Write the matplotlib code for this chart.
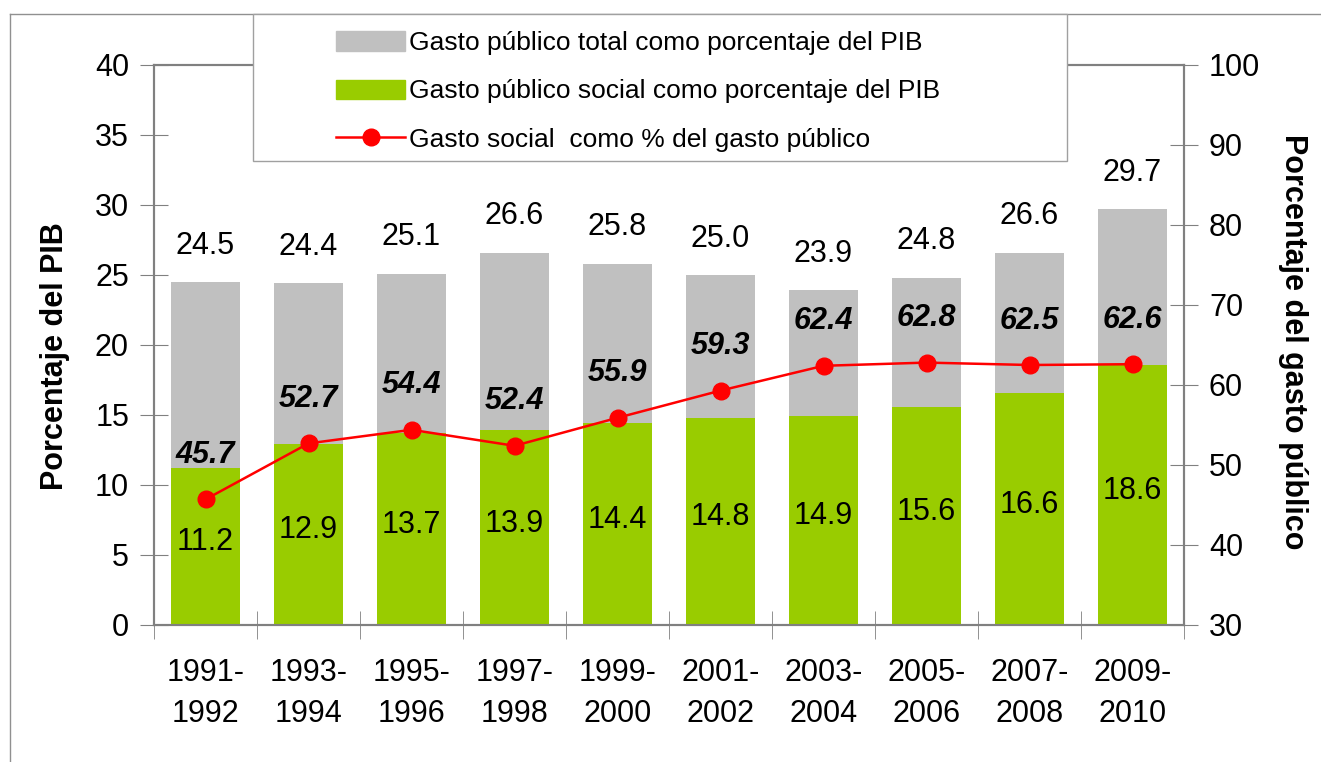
import matplotlib
matplotlib.use("Agg")
import matplotlib.pyplot as plt
import numpy as np
from matplotlib.lines import Line2D
from matplotlib.patches import Patch, Rectangle

plt.rcParams["font.family"] = ["Liberation Sans", "DejaVu Sans"]

periodos = ["1991-\n1992", "1993-\n1994", "1995-\n1996", "1997-\n1998", "1999-\n2000",
            "2001-\n2002", "2003-\n2004", "2005-\n2006", "2007-\n2008", "2009-\n2010"]
gasto_total = [24.5, 24.4, 25.1, 26.6, 25.8, 25.0, 23.9, 24.8, 26.6, 29.7]
gasto_social = [11.2, 12.9, 13.7, 13.9, 14.4, 14.8, 14.9, 15.6, 16.6, 18.6]
social_pct = [45.7, 52.7, 54.4, 52.4, 55.9, 59.3, 62.4, 62.8, 62.5, 62.6]

GRIS = "#C0C0C0"
VERDE = "#99CC00"
ROJO = "#FF0000"
EJE = "#808080"
FS = 22

fig = plt.figure(figsize=(13.21, 7.62), dpi=100)
ax = fig.add_axes([154 / 1321, 1 - 625 / 762, 1030 / 1321, 560 / 762])
ax2 = ax.twinx()

x = np.arange(len(periodos))
w = 0.67
ax.bar(x, gasto_total, width=w, color=GRIS, zorder=2)
ax.bar(x, gasto_social, width=w, color=VERDE, zorder=3)

for xi, t, s in zip(x, gasto_total, gasto_social):
    ax.text(xi, t + 2.6, f"{t:.1f}", ha="center", va="center", fontsize=FS)
    ax.text(xi, s / 2 + 0.3, f"{s:.1f}", ha="center", va="center", fontsize=FS, zorder=4)

ax2.plot(x, social_pct, color=ROJO, lw=1.8, marker="o", ms=12, zorder=5)
for xi, p in zip(x, social_pct):
    ax2.annotate(f"{p:.1f}", (xi, p), xytext=(0, 32), textcoords="offset points",
                 ha="center", va="center", fontsize=FS, fontweight="bold", fontstyle="italic")

ax.set_xlim(-0.5, len(periodos) - 0.5)
ax.set_ylim(0, 40)
ax.set_yticks(np.arange(0, 41, 5))
ax2.set_ylim(30, 100)
ax2.set_yticks(np.arange(30, 101, 10))

ax.set_xticks(x)
ax.set_xticklabels(periodos, fontsize=FS, linespacing=1.45)
ax.tick_params(axis="x", length=0, pad=24)
ax.set_xticks(np.arange(-0.5, len(periodos)), minor=True)
ax.tick_params(axis="x", which="minor", direction="inout", length=20, color=EJE)
ax.tick_params(axis="y", direction="inout", length=20, color=EJE, labelsize=FS, pad=8)
ax2.tick_params(axis="y", direction="inout", length=20, color=EJE, labelsize=FS, pad=8)

for a in (ax, ax2):
    for sp in a.spines.values():
        sp.set_color(EJE)
        sp.set_linewidth(1.5)

ax.set_ylabel("Porcentaje del PIB", fontsize=FS, fontweight="bold")
ax.yaxis.set_label_coords(-99 / 1030, 0.48)
ax.yaxis.label.set_va("center")
ax2.set_ylabel("Porcentaje del gasto público", fontsize=FS, fontweight="bold", rotation=-90)
ax2.yaxis.set_label_coords(1139 / 1030, 0.505)
ax2.yaxis.label.set_va("center")

# figure border (top and left)
fig.add_artist(Line2D([10 / 1321, 10 / 1321], [0, 1 - 14 / 762], color="#909090", lw=1))
fig.add_artist(Line2D([10 / 1321, 1], [1 - 14 / 762, 1 - 14 / 762], color="#909090", lw=1))

# legend box
fig.add_artist(Rectangle((253 / 1321, 1 - 161 / 762), 814 / 1321, 147 / 762,
                         transform=fig.transFigure, facecolor="white",
                         edgecolor="#A0A0A0", lw=1, zorder=10))
handles = [Patch(color=GRIS), Patch(color=VERDE),
           Line2D([], [], color=ROJO, lw=1.8, marker="o", ms=12)]
labels = ["Gasto público total como porcentaje del PIB",
          "Gasto público social como porcentaje del PIB",
          "Gasto social  como % del gasto público"]
leg = fig.legend(handles, labels, loc="upper left", bbox_to_anchor=(323 / 1321, 1 - 18 / 762),
                 frameon=False, fontsize=19, handlelength=2.6, handleheight=0.75,
                 handletextpad=0.15, labelspacing=0.92, borderpad=0)
leg.set_zorder(11)

fig.savefig("out.png", dpi=100)
